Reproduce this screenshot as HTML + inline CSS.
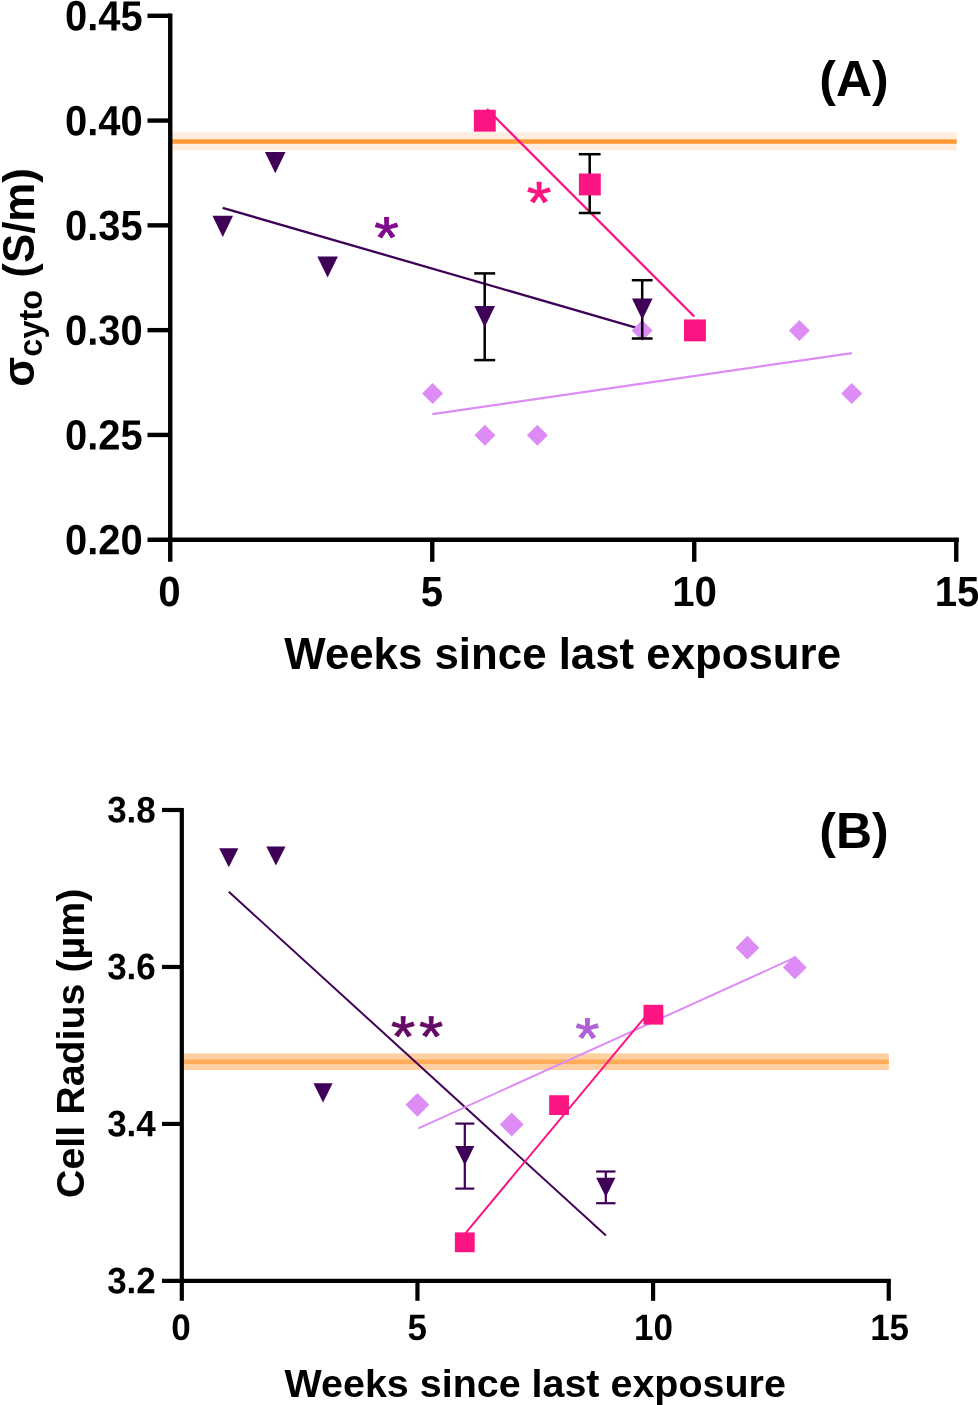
<!DOCTYPE html>
<html lang="en"><head><meta charset="utf-8"><title>Figure</title>
<style>
html,body{margin:0;padding:0;background:#fff;}
body{width:978px;height:1405px;overflow:hidden;}
svg{display:block;font-family:"Liberation Sans", sans-serif;font-weight:bold;}
</style></head><body>
<svg width="978" height="1405" viewBox="0 0 978 1405" role="img" aria-label="Cytoplasm conductivity and cell radius versus weeks since last exposure">
<rect width="978" height="1405" fill="#fff"/>
<g id="chartA">
<rect x="170.25" y="132.2" width="786.45" height="18.4" fill="#ffeee0"/>
<rect x="170.25" y="139.3" width="786.45" height="4.5" fill="#ff9a36"/>
<line x1="170.25" y1="13.60" x2="170.25" y2="561.80" stroke="#000" stroke-width="4.4" stroke-linecap="butt"/>
<line x1="147.50" y1="539.70" x2="958.90" y2="539.70" stroke="#000" stroke-width="4.4" stroke-linecap="butt"/>
<line x1="147.50" y1="434.92" x2="170.25" y2="434.92" stroke="#000" stroke-width="4.4" stroke-linecap="butt"/>
<line x1="147.50" y1="330.14" x2="170.25" y2="330.14" stroke="#000" stroke-width="4.4" stroke-linecap="butt"/>
<line x1="147.50" y1="225.36" x2="170.25" y2="225.36" stroke="#000" stroke-width="4.4" stroke-linecap="butt"/>
<line x1="147.50" y1="120.58" x2="170.25" y2="120.58" stroke="#000" stroke-width="4.4" stroke-linecap="butt"/>
<line x1="147.50" y1="15.80" x2="170.25" y2="15.80" stroke="#000" stroke-width="4.4" stroke-linecap="butt"/>
<line x1="432.25" y1="539.70" x2="432.25" y2="561.80" stroke="#000" stroke-width="4.4" stroke-linecap="butt"/>
<line x1="694.25" y1="539.70" x2="694.25" y2="561.80" stroke="#000" stroke-width="4.4" stroke-linecap="butt"/>
<line x1="956.25" y1="539.70" x2="956.25" y2="561.80" stroke="#000" stroke-width="4.4" stroke-linecap="butt"/>
<text transform="translate(142.70,554.30) rotate(0.03) scale(1,1.06)" font-size="39.9" text-anchor="end" fill="#000" >0.20</text>
<text transform="translate(142.70,449.52) rotate(0.03) scale(1,1.06)" font-size="39.9" text-anchor="end" fill="#000" >0.25</text>
<text transform="translate(142.70,344.74) rotate(0.03) scale(1,1.06)" font-size="39.9" text-anchor="end" fill="#000" >0.30</text>
<text transform="translate(142.70,239.96) rotate(0.03) scale(1,1.06)" font-size="39.9" text-anchor="end" fill="#000" >0.35</text>
<text transform="translate(142.70,135.18) rotate(0.03) scale(1,1.06)" font-size="39.9" text-anchor="end" fill="#000" >0.40</text>
<text transform="translate(142.70,30.40) rotate(0.03) scale(1,1.06)" font-size="39.9" text-anchor="end" fill="#000" >0.45</text>
<text transform="translate(169.45,605.90) rotate(0.03) scale(1,1.05)" font-size="40.2" text-anchor="middle" fill="#000" >0</text>
<text transform="translate(432.00,605.90) rotate(0.03) scale(1,1.05)" font-size="40.2" text-anchor="middle" fill="#000" >5</text>
<text transform="translate(694.55,605.90) rotate(0.03) scale(1,1.05)" font-size="40.2" text-anchor="middle" fill="#000" >10</text>
<text transform="translate(957.10,605.90) rotate(0.03) scale(1,1.05)" font-size="40.2" text-anchor="middle" fill="#000" >15</text>
<text x="562.70" y="669.40" font-size="43.8" text-anchor="middle" fill="#000" >Weeks since last exposure</text>
<text transform="translate(34,277.4) rotate(-90)" font-size="43.8" text-anchor="middle">σ<tspan font-size="32.5" dy="7.5">cyto</tspan><tspan dy="-7.5"> (S/m)</tspan></text>
<text x="854.00" y="96.00" font-size="50" text-anchor="middle" fill="#000" >(A)</text>
<line x1="222.65" y1="207.90" x2="641.85" y2="329.30" stroke="#3f0058" stroke-width="2.3" stroke-linecap="butt"/>
<line x1="487.00" y1="109.05" x2="694.20" y2="316.50" stroke="#fc1482" stroke-width="2.3" stroke-linecap="butt"/>
<line x1="432.40" y1="414.10" x2="851.90" y2="353.10" stroke="#dd8cf5" stroke-width="2.3" stroke-linecap="butt"/>
<polygon points="432.55,382.91 443.05,393.41 432.55,403.91 422.05,393.41" fill="#dd8cf5"/>
<polygon points="484.95,424.82 495.45,435.32 484.95,445.82 474.45,435.32" fill="#dd8cf5"/>
<polygon points="537.35,424.82 547.85,435.32 537.35,445.82 526.85,435.32" fill="#dd8cf5"/>
<polygon points="642.15,320.04 652.65,330.54 642.15,341.04 631.65,330.54" fill="#dd8cf5"/>
<polygon points="799.35,320.04 809.85,330.54 799.35,341.04 788.85,330.54" fill="#dd8cf5"/>
<polygon points="851.75,382.91 862.25,393.41 851.75,403.91 841.25,393.41" fill="#dd8cf5"/>
<line x1="484.70" y1="273.40" x2="484.70" y2="360.10" stroke="#000" stroke-width="2.5" stroke-linecap="butt"/>
<line x1="474.20" y1="273.40" x2="495.20" y2="273.40" stroke="#000" stroke-width="2.5" stroke-linecap="butt"/>
<line x1="474.20" y1="360.10" x2="495.20" y2="360.10" stroke="#000" stroke-width="2.5" stroke-linecap="butt"/>
<line x1="642.20" y1="280.20" x2="642.20" y2="338.50" stroke="#000" stroke-width="2.5" stroke-linecap="butt"/>
<line x1="631.80" y1="280.20" x2="652.60" y2="280.20" stroke="#000" stroke-width="2.5" stroke-linecap="butt"/>
<line x1="631.80" y1="338.50" x2="652.60" y2="338.50" stroke="#000" stroke-width="2.5" stroke-linecap="butt"/>
<line x1="589.70" y1="154.20" x2="589.70" y2="213.00" stroke="#000" stroke-width="2.5" stroke-linecap="butt"/>
<line x1="578.80" y1="154.20" x2="600.60" y2="154.20" stroke="#000" stroke-width="2.5" stroke-linecap="butt"/>
<line x1="578.80" y1="213.00" x2="600.60" y2="213.00" stroke="#000" stroke-width="2.5" stroke-linecap="butt"/>
<polygon points="212.45,215.70 233.05,215.70 222.75,236.90" fill="#3f0058"/>
<polygon points="264.95,152.10 285.55,152.10 275.25,173.30" fill="#3f0058"/>
<polygon points="317.30,256.40 337.90,256.40 327.60,277.60" fill="#3f0058"/>
<polygon points="474.40,306.10 495.00,306.10 484.70,327.30" fill="#3f0058"/>
<polygon points="632.00,298.50 652.60,298.50 642.30,319.70" fill="#3f0058"/>
<rect x="473.85" y="109.75" width="21.9" height="21.9" fill="#fc1482"/>
<rect x="578.90" y="173.50" width="21.9" height="21.9" fill="#fc1482"/>
<rect x="684.00" y="319.45" width="21.9" height="21.9" fill="#fc1482"/>
<text transform="translate(386.50,227.90) rotate(0.03) scale(1,0.93)" x="-12.25" y="32.13" font-size="63" font-weight="normal" fill="#800a8c" stroke="#800a8c" stroke-width="0.9">*</text>
<text transform="translate(539.00,192.70) rotate(0.03) scale(1,0.93)" x="-12.25" y="32.13" font-size="63" font-weight="normal" fill="#fc1482" stroke="#fc1482" stroke-width="0.9">*</text>
</g>
<g id="chartB">
<rect x="181.80" y="1053.4" width="707.00" height="16.6" fill="#fecfa0"/>
<rect x="181.80" y="1059.5" width="707.00" height="4.5" fill="#ffab5a"/>
<line x1="181.80" y1="807.90" x2="181.80" y2="1300.80" stroke="#000" stroke-width="4.2" stroke-linecap="butt"/>
<line x1="162.00" y1="1280.90" x2="890.85" y2="1280.90" stroke="#000" stroke-width="4.2" stroke-linecap="butt"/>
<line x1="162.00" y1="1123.93" x2="181.80" y2="1123.93" stroke="#000" stroke-width="4.2" stroke-linecap="butt"/>
<line x1="162.00" y1="966.97" x2="181.80" y2="966.97" stroke="#000" stroke-width="4.2" stroke-linecap="butt"/>
<line x1="162.00" y1="810.00" x2="181.80" y2="810.00" stroke="#000" stroke-width="4.2" stroke-linecap="butt"/>
<line x1="417.45" y1="1280.90" x2="417.45" y2="1300.80" stroke="#000" stroke-width="4.2" stroke-linecap="butt"/>
<line x1="653.10" y1="1280.90" x2="653.10" y2="1300.80" stroke="#000" stroke-width="4.2" stroke-linecap="butt"/>
<line x1="888.75" y1="1280.90" x2="888.75" y2="1300.80" stroke="#000" stroke-width="4.2" stroke-linecap="butt"/>
<text transform="translate(155.80,1293.30) rotate(0.03) scale(1,1.05)" font-size="35.0" text-anchor="end" fill="#000" >3.2</text>
<text transform="translate(155.80,1136.33) rotate(0.03) scale(1,1.05)" font-size="35.0" text-anchor="end" fill="#000" >3.4</text>
<text transform="translate(155.80,979.37) rotate(0.03) scale(1,1.05)" font-size="35.0" text-anchor="end" fill="#000" >3.6</text>
<text transform="translate(155.80,822.40) rotate(0.03) scale(1,1.05)" font-size="35.0" text-anchor="end" fill="#000" >3.8</text>
<text transform="translate(181.00,1339.90) rotate(0.03) scale(1,1.05)" font-size="35.0" text-anchor="middle" fill="#000" >0</text>
<text transform="translate(417.20,1339.90) rotate(0.03) scale(1,1.05)" font-size="35.0" text-anchor="middle" fill="#000" >5</text>
<text transform="translate(653.40,1339.90) rotate(0.03) scale(1,1.05)" font-size="35.0" text-anchor="middle" fill="#000" >10</text>
<text transform="translate(889.60,1339.90) rotate(0.03) scale(1,1.05)" font-size="35.0" text-anchor="middle" fill="#000" >15</text>
<text x="535.20" y="1396.90" font-size="39.45" text-anchor="middle" fill="#000" >Weeks since last exposure</text>
<text transform="translate(84.3,1043.3) rotate(-90)" font-size="39.4" text-anchor="middle">Cell Radius (µm)</text>
<text x="854.00" y="848.40" font-size="50" text-anchor="middle" fill="#000" >(B)</text>
<line x1="228.80" y1="891.80" x2="605.90" y2="1235.50" stroke="#3f0058" stroke-width="2.0" stroke-linecap="butt"/>
<line x1="418.40" y1="1128.30" x2="794.20" y2="957.90" stroke="#dd8cf5" stroke-width="2.0" stroke-linecap="butt"/>
<line x1="464.50" y1="1234.40" x2="653.10" y2="1007.30" stroke="#fc1482" stroke-width="2.0" stroke-linecap="butt"/>
<polygon points="417.40,1092.90 429.30,1104.80 417.40,1116.70 405.50,1104.80" fill="#dd8cf5"/>
<polygon points="511.70,1112.60 523.60,1124.50 511.70,1136.40 499.80,1124.50" fill="#dd8cf5"/>
<polygon points="747.40,935.80 759.30,947.70 747.40,959.60 735.50,947.70" fill="#dd8cf5"/>
<polygon points="794.80,955.50 806.70,967.40 794.80,979.30 782.90,967.40" fill="#dd8cf5"/>
<line x1="464.80" y1="1123.60" x2="464.80" y2="1188.60" stroke="#3f0058" stroke-width="2.2" stroke-linecap="butt"/>
<line x1="455.30" y1="1123.60" x2="474.30" y2="1123.60" stroke="#3f0058" stroke-width="2.2" stroke-linecap="butt"/>
<line x1="455.30" y1="1188.60" x2="474.30" y2="1188.60" stroke="#3f0058" stroke-width="2.2" stroke-linecap="butt"/>
<line x1="605.80" y1="1171.50" x2="605.80" y2="1203.20" stroke="#3f0058" stroke-width="2.2" stroke-linecap="butt"/>
<line x1="596.10" y1="1171.50" x2="615.50" y2="1171.50" stroke="#3f0058" stroke-width="2.2" stroke-linecap="butt"/>
<line x1="596.10" y1="1203.20" x2="615.50" y2="1203.20" stroke="#3f0058" stroke-width="2.2" stroke-linecap="butt"/>
<polygon points="219.20,848.15 238.40,848.15 228.80,867.35" fill="#3f0058"/>
<polygon points="266.30,846.40 285.50,846.40 275.90,865.60" fill="#3f0058"/>
<polygon points="313.45,1083.30 332.65,1083.30 323.05,1102.50" fill="#3f0058"/>
<polygon points="455.20,1146.00 474.40,1146.00 464.80,1165.20" fill="#3f0058"/>
<polygon points="596.20,1177.70 615.40,1177.70 605.80,1196.90" fill="#3f0058"/>
<rect x="454.90" y="1232.40" width="19.8" height="19.8" fill="#fc1482"/>
<rect x="549.15" y="1095.20" width="19.8" height="19.8" fill="#fc1482"/>
<rect x="643.50" y="1004.80" width="19.8" height="19.8" fill="#fc1482"/>
<text transform="translate(417.10,1026.85) rotate(0.03) scale(1,0.93)" x="-26.06 1.94" y="31.62" font-size="62" font-weight="normal" fill="#640a64" stroke="#640a64" stroke-width="0.9">**</text>
<text transform="translate(587.40,1028.60) rotate(0.03) scale(1,0.93)" x="-12.06" y="31.62" font-size="62" font-weight="normal" fill="#b060d8" stroke="#b060d8" stroke-width="0.9">*</text>
</g>
</svg></body></html>
